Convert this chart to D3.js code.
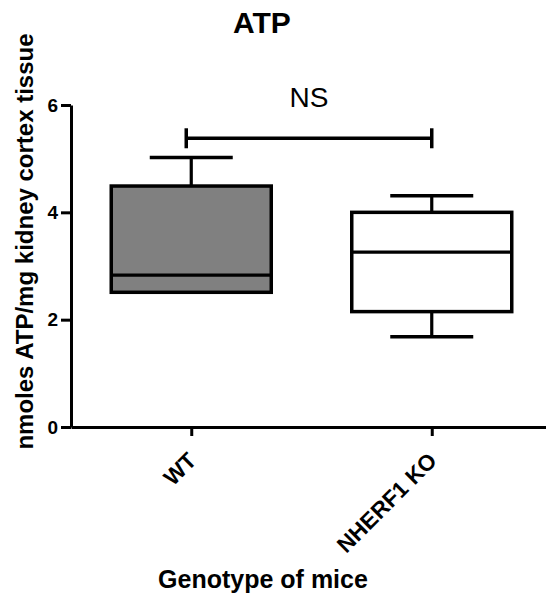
<!DOCTYPE html>
<html>
<head>
<meta charset="utf-8">
<script src="https://cdn.jsdelivr.net/npm/d3@7"></script>
<style>
  body { margin: 0; background: #fff; }
  text { font-family: "Liberation Sans", Arial, sans-serif; }
</style>
</head>
<body>
<div id="chart"></div>
<script>
// box plot values
var categories = ['WT', 'NHERF1 KO'];
var whiskerLow = [2.51, 1.68];
var q1 = [2.51, 2.15];
var median = [2.83, 3.26];
var q3 = [4.49, 4.00];
var whiskerHigh = [5.02, 4.31];
var yTicks = [0, 2, 4, 6];
var significance = {from: 'WT', to: 'NHERF1 KO', level: 5.38, label: 'NS'};

var boxFill = ['#808080', '#ffffff'];

var width = 546, height = 599;

var svg = d3.select('#chart').append('svg')
  .attr('width', width)
  .attr('height', height);

var y = d3.scaleLinear().domain([0, 6]).range([427, 105]);
var x = d3.scalePoint().domain(categories).range([71, 552]).padding(0.5);

var boxHalf = 80, capHalf = 41.5;

// y axis
var yAxis = svg.append('g')
  .attr('transform', 'translate(71,0)')
  .call(d3.axisLeft(y).tickValues(yTicks).tickFormat(d3.format('d'))
    .tickSize(10).tickSizeOuter(0).tickPadding(3));
yAxis.select('.domain').attr('stroke-width', 3);
yAxis.selectAll('.tick line').attr('stroke-width', 3);
yAxis.selectAll('.tick text')
  .style('font-size', '19px').style('font-weight', 'bold').attr('fill', '#000')
  .style('font-family', '"Liberation Sans", Arial, sans-serif');

// x axis
var xAxis = svg.append('g')
  .attr('transform', 'translate(0,427)')
  .call(d3.axisBottom(x).tickSize(9).tickSizeOuter(0));
xAxis.select('.domain').attr('stroke-width', 3);
xAxis.selectAll('.tick line').attr('stroke-width', 3);
xAxis.selectAll('.tick text')
  .style('font-size', '22.5px').style('font-weight', 'bold').attr('fill', '#000')
  .style('font-family', '"Liberation Sans", Arial, sans-serif')
  .attr('text-anchor', 'end')
  .attr('x', 0).attr('y', 0).attr('dy', 0)
  .attr('transform', 'translate(6,35) rotate(-45)');

// boxes
var boxes = svg.selectAll('.box')
  .data(categories)
  .enter().append('g')
  .attr('class', 'box');

// whiskers
boxes.append('line')
  .attr('x1', function(d){ return x(d); })
  .attr('x2', function(d){ return x(d); })
  .attr('y1', function(d, i){ return y(whiskerHigh[i]); })
  .attr('y2', function(d, i){ return y(q3[i]); })
  .attr('stroke', '#000').attr('stroke-width', 3.2);
boxes.append('line')
  .attr('x1', function(d){ return x(d); })
  .attr('x2', function(d){ return x(d); })
  .attr('y1', function(d, i){ return y(q1[i]); })
  .attr('y2', function(d, i){ return y(whiskerLow[i]); })
  .attr('stroke', '#000').attr('stroke-width', 3.2);

// whisker caps (skip when the whisker has no length)
boxes.append('line')
  .attr('x1', function(d){ return x(d) - capHalf; })
  .attr('x2', function(d){ return x(d) + capHalf; })
  .attr('y1', function(d, i){ return y(whiskerHigh[i]); })
  .attr('y2', function(d, i){ return y(whiskerHigh[i]); })
  .attr('stroke', '#000').attr('stroke-width', 3.5);
boxes.filter(function(d, i){ return whiskerLow[i] < q1[i]; })
  .append('line')
  .attr('x1', function(d){ return x(d) - capHalf; })
  .attr('x2', function(d){ return x(d) + capHalf; })
  .attr('y1', function(d){ var i = categories.indexOf(d); return y(whiskerLow[i]); })
  .attr('y2', function(d){ var i = categories.indexOf(d); return y(whiskerLow[i]); })
  .attr('stroke', '#000').attr('stroke-width', 3.5);

boxes.append('rect')
  .attr('x', function(d){ return x(d) - boxHalf; })
  .attr('width', boxHalf * 2)
  .attr('y', function(d, i){ return y(q3[i]); })
  .attr('height', function(d, i){ return y(q1[i]) - y(q3[i]); })
  .attr('fill', function(d, i){ return boxFill[i]; })
  .attr('stroke', '#000').attr('stroke-width', 3.5);

boxes.append('line')
  .attr('x1', function(d){ return x(d) - boxHalf; })
  .attr('x2', function(d){ return x(d) + boxHalf; })
  .attr('y1', function(d, i){ return y(median[i]); })
  .attr('y2', function(d, i){ return y(median[i]); })
  .attr('stroke', '#000').attr('stroke-width', 3.2);

// significance bracket
var bx1 = x(significance.from) - 5, bx2 = x(significance.to);
var by = y(significance.level);
svg.append('line')
  .attr('x1', bx1).attr('x2', bx2).attr('y1', by).attr('y2', by)
  .attr('stroke', '#000').attr('stroke-width', 3.5);
[bx1, bx2].forEach(function(bx){
  svg.append('line')
    .attr('x1', bx).attr('x2', bx).attr('y1', by - 10).attr('y2', by + 10)
    .attr('stroke', '#000').attr('stroke-width', 3.5);
});
svg.append('text')
  .attr('x', (bx1 + bx2) / 2).attr('y', 106.5)
  .attr('text-anchor', 'middle')
  .style('font-size', '28px')
  .text(significance.label);

// titles
svg.append('text')
  .attr('x', 262).attr('y', 33)
  .attr('text-anchor', 'middle')
  .style('font-size', '30px').style('font-weight', 'bold')
  .text('ATP');

svg.append('text')
  .attr('transform', 'translate(33,241.5) rotate(-90)')
  .attr('text-anchor', 'middle')
  .style('font-size', '24px').style('font-weight', 'bold')
  .text('nmoles ATP/mg kidney cortex tissue');

svg.append('text')
  .attr('x', 263).attr('y', 588)
  .attr('text-anchor', 'middle')
  .style('font-size', '25px').style('font-weight', 'bold')
  .text('Genotype of mice');
</script>
</body>
</html>
